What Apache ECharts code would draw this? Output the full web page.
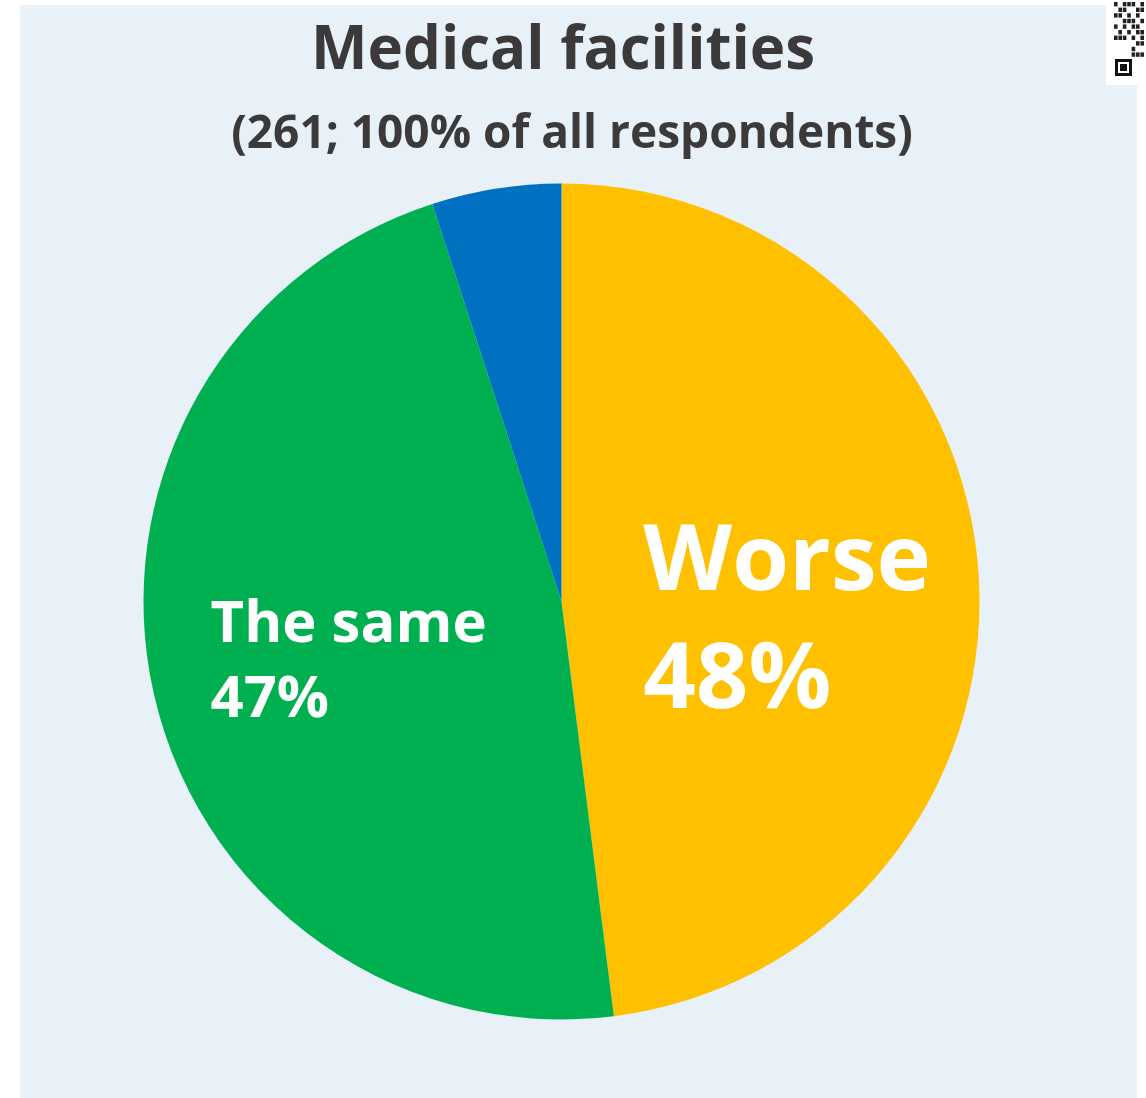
<!DOCTYPE html>
<html>
<head>
<meta charset="utf-8">
<title>Medical facilities</title>
<script src="https://cdn.jsdelivr.net/npm/echarts@6/dist/echarts.min.js"></script>
<style>
  html, body { margin: 0; padding: 0; background: #ffffff; }
  #chart { width: 1146px; height: 1098px; }
</style>
</head>
<body>
<div id="chart"></div>
<script>
// Survey answers: how medical facilities have changed
const categories = ['Worse', 'The same', 'Better'];
const shares = [48, 47, 5];
const showLabel = [true, true, false];
const sliceColors = ['#FFC000', '#00B050', '#0070C0'];

const titleText = 'Medical facilities';
const subtitleText = '(261; 100% of all respondents)';

// Small scan-code badge in the top right corner (rows of modules)
const badgeRows = [
  '1011101',
  '0110011',
  '1101010',
  '0011101',
  '1010110',
  '0101011',
  '1110101',
  '0010011',
  '1101100',
  '1110111'
];

const chart = echarts.init(document.getElementById('chart'), null, { renderer: 'canvas' });

const badge = [];
badge.push({ type: 'rect', shape: { x: 1106, y: 0, width: 40, height: 85 }, style: { fill: '#ffffff' }, z: 1 });
badgeRows.forEach((row, r) => {
  for (let c = 0; c < row.length; c++) {
    if (row[c] === '1' && !(r >= 7 && c <= 3)) {
      badge.push({ type: 'rect', shape: { x: 1114 + c * 4.4, y: 2 + r * 5.6, width: 3.6, height: 4.4 }, style: { fill: '#222222' }, z: 2 });
    }
  }
});
// finder square
badge.push({ type: 'rect', shape: { x: 1115, y: 59, width: 17, height: 17 }, style: { fill: '#111111' }, z: 2 });
badge.push({ type: 'rect', shape: { x: 1118, y: 62, width: 11, height: 11 }, style: { fill: '#ffffff' }, z: 3 });
badge.push({ type: 'rect', shape: { x: 1120, y: 64, width: 7, height: 7 }, style: { fill: '#111111' }, z: 4 });

const labelFont = {
  fontFamily: 'Open Sans',
  fontWeight: 700,
  color: '#ffffff'
};

const option = {
  backgroundColor: '#ffffff',
  graphic: [
    { type: 'rect', shape: { x: 20, y: 5, width: 1117, height: 1093 }, style: { fill: '#E8F0F8' }, z: 0 }
  ].concat(badge),
  title: [
    {
      text: titleText,
      left: 558,
      top: 17,
      textAlign: 'center',
      textStyle: { fontFamily: 'Open Sans', fontWeight: 700, fontSize: 60, color: '#3B3939' }
    },
    {
      text: subtitleText,
      left: 567,
      top: 107,
      textAlign: 'center',
      textStyle: { fontFamily: 'Open Sans', fontWeight: 700, fontSize: 46, color: '#3B3939' }
    }
  ],
  series: [
    {
      type: 'pie',
      center: [561.5, 601.5],
      radius: [0, 418],
      startAngle: 90,
      clockwise: true,
      silent: true,
      animation: false,
      labelLine: { show: false },
      data: categories.map((name, i) => ({
        name: name,
        value: shares[i],
        itemStyle: { color: sliceColors[i] },
        label: i === 0
          ? {
              show: showLabel[i], position: 'inside', offset: [14, 35],
              formatter: p => '{a|' + p.name + '}\n{a|' + p.value + '%}',
              rich: { a: Object.assign({ fontSize: 92, lineHeight: 118, align: 'left' }, labelFont) }
            }
          : {
              show: showLabel[i], position: 'inside', offset: [-6, 15],
              formatter: p => '{a|' + p.name + '}\n{a|' + p.value + '%}',
              rich: { a: Object.assign({ fontSize: 58, lineHeight: 75, align: 'left' }, labelFont) }
            }
      }))
    }
  ]
};

chart.setOption(option);
</script>
</body>
</html>
